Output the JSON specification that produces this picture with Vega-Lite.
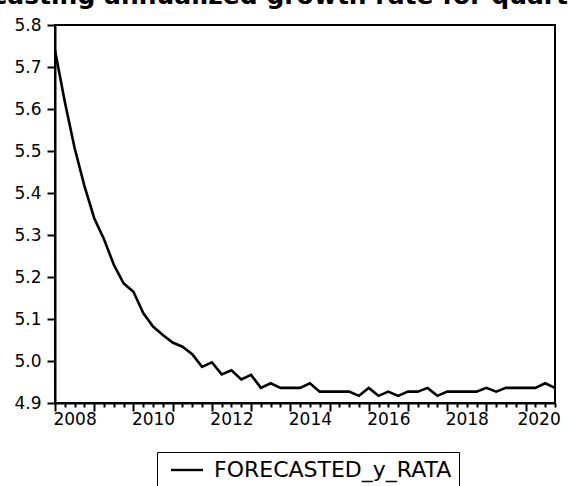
{
  "$schema": "https://vega.github.io/schema/vega-lite/v6.json",
  "width": 500,
  "height": 378,
  "autosize": {"type": "none"},
  "padding": {"left": 55, "top": 25, "right": 13, "bottom": 83},
  "background": "white",
  "title": {
    "text": "Forecasting annualized growth rate for quarterly data",
    "font": "DejaVu Sans",
    "fontWeight": "bold",
    "fontSize": 25,
    "color": "black",
    "anchor": "start",
    "frame": "group",
    "baseline": "alphabetic",
    "offset": 0,
    "dx": -125,
    "dy": 13
  },
  "config": {
    "view": {"stroke": "black", "strokeWidth": 2},
    "axis": {
      "domainColor": "black",
      "domainWidth": 2,
      "tickColor": "black",
      "tickWidth": 2,
      "labelColor": "black",
      "labelFont": "DejaVu Sans",
      "labelFontSize": 17,
      "grid": false,
      "title": null
    }
  },
  "data": {
    "values": [
      {"quarter": "2008Q1", "t": 2008.00, "y": 5.740},
      {"quarter": "2008Q2", "t": 2008.25, "y": 5.617},
      {"quarter": "2008Q3", "t": 2008.50, "y": 5.507},
      {"quarter": "2008Q4", "t": 2008.75, "y": 5.417},
      {"quarter": "2009Q1", "t": 2009.00, "y": 5.340},
      {"quarter": "2009Q2", "t": 2009.25, "y": 5.290},
      {"quarter": "2009Q3", "t": 2009.50, "y": 5.229},
      {"quarter": "2009Q4", "t": 2009.75, "y": 5.185},
      {"quarter": "2010Q1", "t": 2010.00, "y": 5.165},
      {"quarter": "2010Q2", "t": 2010.25, "y": 5.114},
      {"quarter": "2010Q3", "t": 2010.50, "y": 5.082},
      {"quarter": "2010Q4", "t": 2010.75, "y": 5.062},
      {"quarter": "2011Q1", "t": 2011.00, "y": 5.044},
      {"quarter": "2011Q2", "t": 2011.25, "y": 5.034},
      {"quarter": "2011Q3", "t": 2011.50, "y": 5.016},
      {"quarter": "2011Q4", "t": 2011.75, "y": 4.986},
      {"quarter": "2012Q1", "t": 2012.00, "y": 4.997},
      {"quarter": "2012Q2", "t": 2012.25, "y": 4.968},
      {"quarter": "2012Q3", "t": 2012.50, "y": 4.978},
      {"quarter": "2012Q4", "t": 2012.75, "y": 4.956},
      {"quarter": "2013Q1", "t": 2013.00, "y": 4.967},
      {"quarter": "2013Q2", "t": 2013.25, "y": 4.936},
      {"quarter": "2013Q3", "t": 2013.50, "y": 4.947},
      {"quarter": "2013Q4", "t": 2013.75, "y": 4.936},
      {"quarter": "2014Q1", "t": 2014.00, "y": 4.936},
      {"quarter": "2014Q2", "t": 2014.25, "y": 4.936},
      {"quarter": "2014Q3", "t": 2014.50, "y": 4.947},
      {"quarter": "2014Q4", "t": 2014.75, "y": 4.927},
      {"quarter": "2015Q1", "t": 2015.00, "y": 4.927},
      {"quarter": "2015Q2", "t": 2015.25, "y": 4.927},
      {"quarter": "2015Q3", "t": 2015.50, "y": 4.927},
      {"quarter": "2015Q4", "t": 2015.75, "y": 4.917},
      {"quarter": "2016Q1", "t": 2016.00, "y": 4.936},
      {"quarter": "2016Q2", "t": 2016.25, "y": 4.917},
      {"quarter": "2016Q3", "t": 2016.50, "y": 4.927},
      {"quarter": "2016Q4", "t": 2016.75, "y": 4.917},
      {"quarter": "2017Q1", "t": 2017.00, "y": 4.927},
      {"quarter": "2017Q2", "t": 2017.25, "y": 4.927},
      {"quarter": "2017Q3", "t": 2017.50, "y": 4.936},
      {"quarter": "2017Q4", "t": 2017.75, "y": 4.917},
      {"quarter": "2018Q1", "t": 2018.00, "y": 4.927},
      {"quarter": "2018Q2", "t": 2018.25, "y": 4.927},
      {"quarter": "2018Q3", "t": 2018.50, "y": 4.927},
      {"quarter": "2018Q4", "t": 2018.75, "y": 4.927},
      {"quarter": "2019Q1", "t": 2019.00, "y": 4.936},
      {"quarter": "2019Q2", "t": 2019.25, "y": 4.927},
      {"quarter": "2019Q3", "t": 2019.50, "y": 4.936},
      {"quarter": "2019Q4", "t": 2019.75, "y": 4.936},
      {"quarter": "2020Q1", "t": 2020.00, "y": 4.936},
      {"quarter": "2020Q2", "t": 2020.25, "y": 4.936},
      {"quarter": "2020Q3", "t": 2020.50, "y": 4.947},
      {"quarter": "2020Q4", "t": 2020.75, "y": 4.936}
    ]
  },
  "mark": {"type": "line", "strokeWidth": 2.6, "interpolate": "linear"},
  "encoding": {
    "x": {
      "field": "t",
      "type": "quantitative",
      "scale": {"domain": [2008, 2020.75], "nice": false, "zero": false},
      "axis": {
        "values": [2008, 2008.25, 2008.5, 2008.75, 2009, 2009.25, 2009.5, 2009.75, 2010, 2010.25, 2010.5, 2010.75, 2011, 2011.25, 2011.5, 2011.75, 2012, 2012.25, 2012.5, 2012.75, 2013, 2013.25, 2013.5, 2013.75, 2014, 2014.25, 2014.5, 2014.75, 2015, 2015.25, 2015.5, 2015.75, 2016, 2016.25, 2016.5, 2016.75, 2017, 2017.25, 2017.5, 2017.75, 2018, 2018.25, 2018.5, 2018.75, 2019, 2019.25, 2019.5, 2019.75, 2020, 2020.25, 2020.5, 2020.75],
        "tickSize": {"condition": {"test": "floor(datum.value) == datum.value", "value": 8}, "value": 4},
        "labelExpr": "floor(datum.value / 2) * 2 == datum.value ? toString(datum.value) : ''",
        "labelOffset": {"condition": {"test": "datum.value == 2020", "value": 13}, "value": 19.6},
        "labelOverlap": false,
        "labelBound": false,
        "labelFlush": false,
        "labelPadding": 0
      }
    },
    "y": {
      "field": "y",
      "type": "quantitative",
      "scale": {"domain": [4.9, 5.8], "nice": false, "zero": false},
      "axis": {
        "values": [4.9, 5.0, 5.1, 5.2, 5.3, 5.4, 5.5, 5.6, 5.7, 5.8],
        "format": ".1f",
        "tickSize": 8,
        "labelPadding": 6
      }
    },
    "color": {
      "datum": "FORECASTED_y_RATA",
      "type": "nominal",
      "scale": {"range": ["black"]},
      "legend": {
        "title": null,
        "orient": "none",
        "legendX": 102,
        "legendY": 427,
        "strokeColor": "black",
        "padding": 7,
        "symbolType": "M-0.5,0H3.5",
        "symbolSize": 256,
        "symbolStrokeWidth": 2.4,
        "symbolStrokeColor": "black",
        "symbolFillColor": "transparent",
        "labelFont": "DejaVu Sans",
        "labelFontSize": 22,
        "labelColor": "black",
        "labelOffset": 28,
        "labelLimit": 400
      }
    }
  }
}
